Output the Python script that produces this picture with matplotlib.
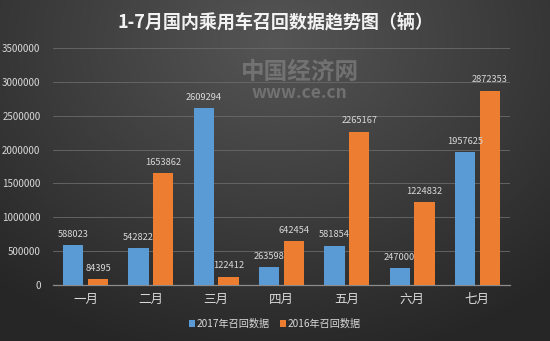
import numpy as np
import matplotlib
matplotlib.use('Agg')
from matplotlib import pyplot as plt, colors

plt.rcParams['font.family'] = ['Noto Sans CJK SC', 'DejaVu Sans']

months = ['一月', '二月', '三月', '四月', '五月', '六月', '七月']
recall_2017 = [588023, 542822, 2609294, 263598, 581854, 247000, 1957625]
recall_2016 = [84395, 1653862, 122412, 642454, 2265167, 1224832, 2872353]
yticks = np.arange(0, 3500001, 500000)

blue = '#5b9bd5'
orange = '#ed7d31'
txt = '#d9d9d9'

fig = plt.figure(figsize=(5.5, 3.41), dpi=100)

# radial dark background
bg = fig.add_axes([0, 0, 1, 1])
yy, xx = np.mgrid[0:341, 0:550]
r = np.sqrt(((xx - 275) / 420.0)**2 + ((yy - 40) / 330.0)**2)
bg.imshow(r, cmap=colors.LinearSegmentedColormap.from_list('bg', ['#555555', '#262626']),
          vmin=0, vmax=1.0, aspect='auto', extent=[0, 1, 0, 1], origin='upper')
bg.set_axis_off()

ax = fig.add_axes([53/550, 1-285/341, 457/550, 237/341])
ax.patch.set_alpha(0)
x = np.arange(len(months))
w = 0.31
b1 = ax.bar(x - 0.035 - w/2, recall_2017, w, color=blue, label='2017年召回数据', zorder=3)
b2 = ax.bar(x + 0.035 + w/2, recall_2016, w, color=orange, label='2016年召回数据', zorder=3)
for bars, vals in ((b1, recall_2017), (b2, recall_2016)):
    for b, v in zip(bars, vals):
        ax.text(b.get_x() + b.get_width()/2, v + 95000, str(v), ha='center', va='bottom',
                fontsize=6.7, color=txt, zorder=4)

ax.set_xlim(-0.5, 6.5)
ax.set_ylim(0, 3500000)
ax.set_yticks(yticks)
ax.set_yticklabels([str(t) for t in yticks], fontsize=7, color=txt)
ax.set_xticks(x)
ax.set_xticklabels(months, fontsize=9, color=txt)
ax.tick_params(length=0, axis='y', pad=9)
ax.tick_params(length=0, axis='x', pad=6)
ax.grid(axis='y', color='#6a6a6a', lw=0.6, zorder=0)
for s in ['top', 'right', 'left']:
    ax.spines[s].set_visible(False)
ax.spines['bottom'].set_color('#8c8c8c')
ax.spines['bottom'].set_linewidth(0.9)

fig.text(0.5, 1-22/341, '1-7月国内乘用车召回数据趋势图（辆）', ha='center', va='center',
         fontsize=13, fontweight='bold', color='#f2f2f2')

# watermark
fig.text(0.545, 1-72/341, '中国经济网', ha='center', va='center', fontsize=17,
         color='#8a8a8a', alpha=0.6, fontweight='bold')
fig.text(0.545, 1-93/341, 'www.ce.cn', ha='center', va='center', fontsize=12.5,
         color='#8a8a8a', alpha=0.6, fontweight='bold')

leg = fig.legend(handles=[b1, b2], loc='center', bbox_to_anchor=(0.5, 1-324/341), ncol=2,
                 frameon=False, fontsize=7.3, handlelength=0.6, handleheight=0.6,
                 handletextpad=0.15, columnspacing=1.0)
for t in leg.get_texts():
    t.set_color(txt)

fig.savefig('out.png', dpi=100)
